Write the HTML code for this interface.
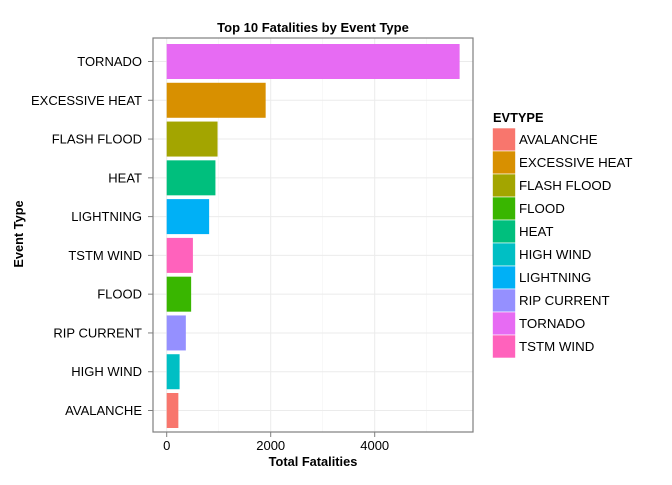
<!DOCTYPE html>
<html><head><meta charset="utf-8"><style>
body{margin:0;background:#fff;font-family:"Liberation Sans",sans-serif;}
svg text{font-family:"Liberation Sans",sans-serif;}
</style></head><body>
<svg width="672" height="480" id="c">
<rect width="672" height="480" fill="#fff"/>
<text x="313" y="32" text-anchor="middle" font-size="13" font-weight="bold">Top 10 Fatalities by Event Type</text>
<g id="panel"></g>
<text x="313" y="466" text-anchor="middle" font-size="12.8" font-weight="bold">Total Fatalities</text>
<text transform="translate(23,234) rotate(-90)" text-anchor="middle" font-size="12.8" font-weight="bold">Event Type</text>
<g id="legend"><text x="493" y="122" font-size="12.8" font-weight="bold">EVTYPE</text></g>
</svg>
<script>
const categories=["TORNADO","EXCESSIVE HEAT","FLASH FLOOD","HEAT","LIGHTNING","TSTM WIND","FLOOD","RIP CURRENT","HIGH WIND","AVALANCHE"];
const values=[5633,1903,978,937,816,504,470,368,248,224];
const legendLabels=["AVALANCHE","EXCESSIVE HEAT","FLASH FLOOD","FLOOD","HEAT","HIGH WIND","LIGHTNING","RIP CURRENT","TORNADO","TSTM WIND"];
const legendColors=["#F8766D","#D89000","#A3A500","#39B600","#00BF7D","#00BFC4","#00B0F6","#9590FF","#E76BF3","#FF62BC"];
const xTicks=[0,2000,4000];
const xMinor=[1000,3000,5000];
const NS="http://www.w3.org/2000/svg";
const L=153,R=473,T=38,B=432;
const x=v=>166.7+v*0.052;
const step=(410.5-61.5)/9;
const y=i=>61.5+i*step;
const p=document.getElementById('panel');
function mk(t,a,par){const e=document.createElementNS(NS,t);for(const k in a)e.setAttribute(k,a[k]);(par||p).appendChild(e);return e;}
mk('rect',{x:L,y:T,width:R-L,height:B-T,fill:'#fff'});
xMinor.forEach(v=>mk('line',{x1:x(v),x2:x(v),y1:T,y2:B,stroke:'#f3f3f3','stroke-width':0.6}));
xTicks.forEach(v=>mk('line',{x1:x(v),x2:x(v),y1:T,y2:B,stroke:'#ebebeb','stroke-width':1}));
categories.forEach((c,i)=>mk('line',{x1:L,x2:R,y1:y(i),y2:y(i),stroke:'#ebebeb','stroke-width':1}));
categories.forEach((c,i)=>{
 const r=mk('rect',{x:x(0),y:y(i)-17.5,width:x(values[i])-x(0),height:35,fill:legendColors[legendLabels.indexOf(c)]});
 
 
 mk('line',{x1:L-5,x2:L,y1:y(i),y2:y(i),stroke:'#7f7f7f'});
 const t=mk('text',{x:L-11,y:y(i)+4.5,'text-anchor':'end','font-size':13});t.textContent=c;
 
 
});
mk('rect',{x:L,y:T,width:R-L,height:B-T,fill:'none',stroke:'#7f7f7f','stroke-width':1.2});
xTicks.forEach(v=>{
 mk('line',{x1:x(v),x2:x(v),y1:B,y2:B+5,stroke:'#7f7f7f'});
 const t=mk('text',{x:x(v),y:B+18,'text-anchor':'middle','font-size':13});t.textContent=v;
 
 
});
const lg=document.getElementById('legend');
legendLabels.forEach((l,i)=>{
 const yy=128+i*23;
 const r=mk('rect',{x:492.5,y:yy,width:23,height:23,fill:legendColors[i],stroke:'#fff','stroke-width':0.6},lg);
 
 
 const t=mk('text',{x:519,y:yy+16,'font-size':13.3},lg);t.textContent=l;
 
 
});
</script>
</body></html>
